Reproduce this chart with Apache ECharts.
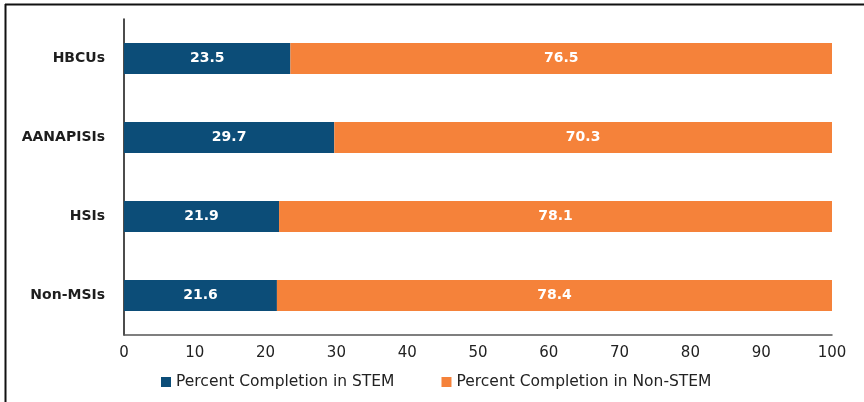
<!DOCTYPE html>
<html><head><meta charset="utf-8">
<script src="https://cdn.jsdelivr.net/npm/echarts@6/dist/echarts.min.js"></script>
<style>html,body{margin:0;padding:0;background:#fff}#c{width:864px;height:402px}</style>
</head><body><div id="c"></div>
<script>
const categories = ['Non-MSIs', 'HSIs', 'AANAPISIs', 'HBCUs'];
const stemValues = [21.6, 21.9, 29.7, 23.5];
const nonStemValues = [78.4, 78.1, 70.3, 76.5];
const seriesNames = ['Percent Completion in STEM', 'Percent Completion in Non-STEM'];
const font = '"DejaVu Sans", sans-serif';
const chart = echarts.init(document.getElementById('c'));
chart.setOption({
  animation: false,
  grid: {left: 124, right: 32, top: 19, bottom: 67},
  graphic: [
    {type: 'line', shape: {x1: 5, y1: 4.5, x2: 864, y2: 4.5}, style: {stroke: '#111', lineWidth: 2}},
    {type: 'line', shape: {x1: 5.5, y1: 4, x2: 5.5, y2: 402}, style: {stroke: '#111', lineWidth: 2}}
  ],
  legend: {
    top: 374, left: 161, itemGap: 47, itemWidth: 10, itemHeight: 10, icon: 'rect', padding: 0,
    textStyle: {fontFamily: font, fontSize: 15.5, color: '#222'},
    data: seriesNames
  },
  xAxis: {
    type: 'value', min: 0, max: 100, interval: 10,
    axisLine: {show: true, lineStyle: {color: '#555', width: 1.5}},
    axisTick: {show: false}, splitLine: {show: false},
    axisLabel: {fontFamily: font, fontSize: 15, color: '#222', margin: 11}
  },
  yAxis: {
    type: 'category', data: categories,
    axisLine: {show: true, lineStyle: {color: '#111', width: 1.5}},
    axisTick: {show: false},
    axisLabel: {fontFamily: font, fontSize: 14, fontWeight: 'bold', color: '#1e1e1e', margin: 19}
  },
  series: [
    {name: seriesNames[0], type: 'bar', stack: 't', data: stemValues, barWidth: 31,
     itemStyle: {color: '#0c4d78'},
     label: {show: true, position: 'inside', color: '#fff', fontFamily: font, fontSize: 14, fontWeight: 'bold'}},
    {name: seriesNames[1], type: 'bar', stack: 't', data: nonStemValues, barWidth: 31,
     itemStyle: {color: '#f5823a'},
     label: {show: true, position: 'inside', color: '#fff', fontFamily: font, fontSize: 14, fontWeight: 'bold'}}
  ]
});
</script></body></html>
